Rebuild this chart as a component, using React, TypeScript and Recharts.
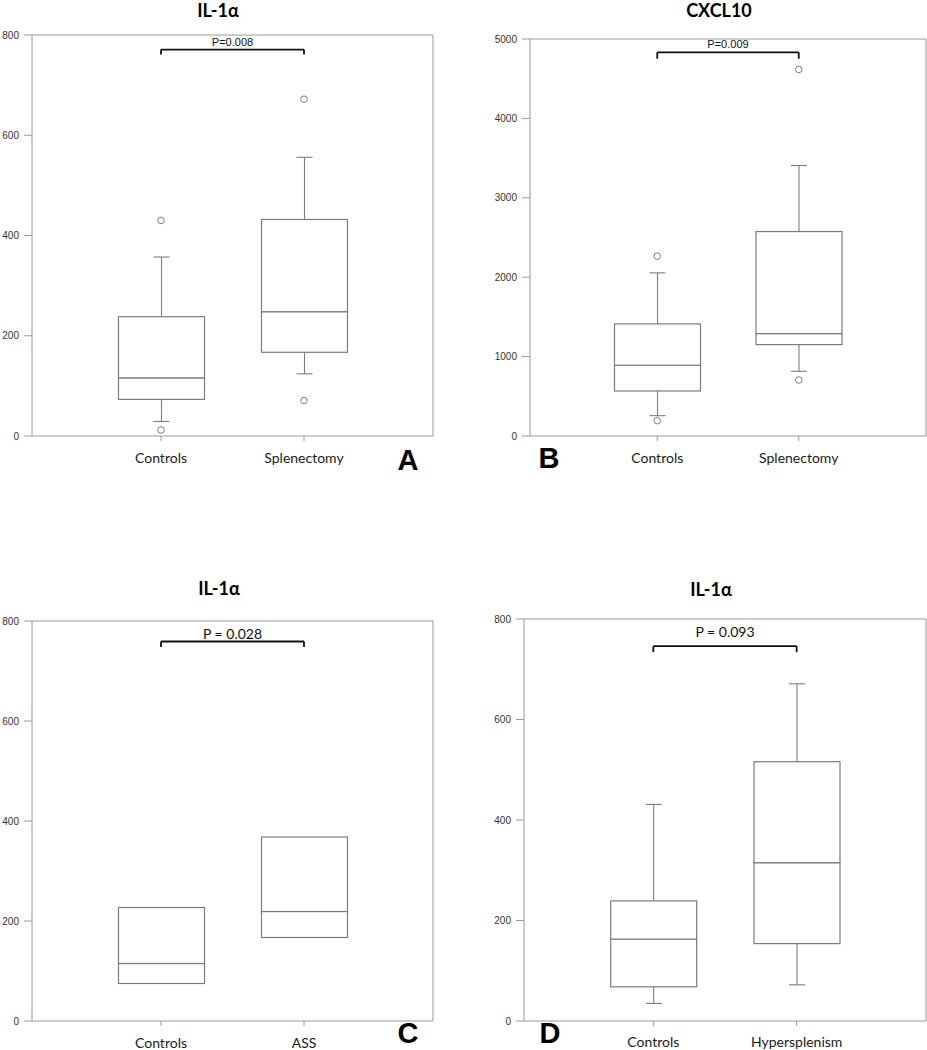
import React from 'react';
import {
  ComposedChart,
  Bar,
  Scatter,
  XAxis,
  YAxis,
  ReferenceLine,
} from 'recharts';

// ---------- Panel A : IL-1α, Controls vs Splenectomy ----------
const groupsA = ['Controls', 'Splenectomy'];
const lowWhiskerA = [29, 124];
const q1A = [73, 167];
const medianA = [116, 248];
const q3A = [238, 432];
const highWhiskerA = [357, 556];
const outHighA = [430, 672];
const outLowA = [12, 71];
const ticksA = [0, 200, 400, 600, 800];

// ---------- Panel B : CXCL10, Controls vs Splenectomy ----------
const groupsB = ['Controls', 'Splenectomy'];
const lowWhiskerB = [256, 815];
const q1B = [567, 1151];
const medianB = [891, 1290];
const q3B = [1412, 2575];
const highWhiskerB = [2054, 3407];
const outHighB = [2265, 4617];
const outLowB = [193, 706];
const ticksB = [0, 1000, 2000, 3000, 4000, 5000];

// ---------- Panel C : IL-1α, Controls vs ASS ----------
const groupsC = ['Controls', 'ASS'];
const q1C = [75, 167];
const medianC = [115, 219];
const q3C = [227, 368];
const ticksC = [0, 200, 400, 600, 800];

// ---------- Panel D : IL-1α, Controls vs Hypersplenism ----------
const groupsD = ['Controls', 'Hypersplenism'];
const lowWhiskerD = [35, 72];
const q1D = [68, 154];
const medianD = [163, 315];
const q3D = [239, 516];
const highWhiskerD = [431, 671];
const ticksD = [0, 200, 400, 600, 800];

// p-value brackets: label, bar level, end level
const bracketA = { label: 'P=0.008', level: 771, end: 761 };
const bracketB = { label: 'P=0.009', level: 4831, end: 4752 };
const bracketC = { label: 'P = 0.028', level: 759, end: 748 };
const bracketD = { label: 'P = 0.093', level: 746, end: 734 };

const BOX = '#7c7c7c';
const FRAME = '#9a9a9a';

const LowWhiskerShape = (p: any) => {
  if (p.height == null || isNaN(p.height)) return null;
  const cx = p.x + p.width / 2;
  const yb = p.y + p.height;
  return (
    <g>
      <line x1={cx} x2={cx} y1={p.y} y2={yb} stroke={BOX} strokeWidth={1.1} />
      <line x1={cx - 8} x2={cx + 8} y1={yb} y2={yb} stroke={BOX} strokeWidth={1.1} />
    </g>
  );
};

const HighWhiskerShape = (p: any) => {
  if (p.height == null || isNaN(p.height)) return null;
  const cx = p.x + p.width / 2;
  return (
    <g>
      <line x1={cx} x2={cx} y1={p.y} y2={p.y + p.height} stroke={BOX} strokeWidth={1.1} />
      <line x1={cx - 8} x2={cx + 8} y1={p.y} y2={p.y} stroke={BOX} strokeWidth={1.1} />
    </g>
  );
};

const BoxShape = (p: any) => {
  if (p.height == null || isNaN(p.height)) return null;
  return (
    <rect x={p.x} y={p.y} width={p.width} height={p.height} fill="#fff" stroke={BOX} strokeWidth={1.2} />
  );
};

const OutlierShape = (p: any) => (
  <circle cx={p.cx} cy={p.cy} r={3.3} fill="#fff" stroke={BOX} strokeWidth={1} />
);

type PanelProps = {
  left: number;
  top: number;
  width: number;
  height: number;
  margin: { top: number; right: number; bottom: number; left: number };
  yWidth: number;
  xHeight: number;
  xPad: number;
  xTickMargin: number;
  groups: string[];
  low?: number[];
  q1: number[];
  median: number[];
  q3: number[];
  high?: number[];
  outHigh?: number[];
  outLow?: number[];
  ticks: number[];
  bracket: { label: string; level: number; end: number };
  pFont: { family: string; size: number; offset: number };
};

const BoxPanel = (props: PanelProps) => {
  const { groups, low, q1, median, q3, high, outHigh, outLow, ticks, bracket } = props;
  const hasWhiskers = !!low && !!high;
  const data = groups.map((g, i) => ({
    name: g,
    base: hasWhiskers ? low![i] : q1[i],
    lowWhisker: hasWhiskers ? q1[i] - low![i] : undefined,
    lowBox: median[i] - q1[i],
    highBox: q3[i] - median[i],
    highWhisker: hasWhiskers ? high![i] - q3[i] : undefined,
    outHigh: outHigh ? outHigh[i] : undefined,
    outLow: outLow ? outLow[i] : undefined,
  }));
  const yMax = ticks[ticks.length - 1];
  const first = groups[0];
  const last = groups[groups.length - 1];
  return (
    <div style={{ position: 'absolute', left: props.left, top: props.top }}>
      <ComposedChart width={props.width} height={props.height} data={data} margin={props.margin} barSize={86}>
        <XAxis
          dataKey="name"
          type="category"
          interval={0}
          height={props.xHeight}
          padding={{ left: props.xPad, right: props.xPad }}
          axisLine={{ stroke: FRAME }}
          tickLine={{ stroke: FRAME }}
          tickSize={5}
          tickMargin={props.xTickMargin}
          tick={{ fontFamily: 'Lato, "Noto Sans", sans-serif', fontSize: 14, fill: '#1a1a1a' }}
        />
        <XAxis
          xAxisId="frameTop"
          dataKey="name"
          type="category"
          orientation="top"
          height={1}
          tick={false}
          tickLine={false}
          axisLine={{ stroke: FRAME }}
        />
        <YAxis
          type="number"
          domain={[0, yMax]}
          ticks={ticks}
          interval={0}
          width={props.yWidth}
          axisLine={{ stroke: FRAME }}
          tickLine={{ stroke: FRAME }}
          tickSize={8}
          tickMargin={5}
          tick={{ fontFamily: '"Liberation Sans", Arial, sans-serif', fontSize: 10, fill: '#333' }}
        />
        <YAxis
          yAxisId="frameRight"
          type="number"
          orientation="right"
          domain={[0, yMax]}
          width={1}
          tick={false}
          tickLine={false}
          axisLine={{ stroke: FRAME }}
        />
        <Bar dataKey="base" stackId="box" fill="none" isAnimationActive={false} />
        {hasWhiskers && (
          <Bar dataKey="lowWhisker" stackId="box" shape={LowWhiskerShape} isAnimationActive={false} />
        )}
        <Bar dataKey="lowBox" stackId="box" shape={BoxShape} isAnimationActive={false} />
        <Bar dataKey="highBox" stackId="box" shape={BoxShape} isAnimationActive={false} />
        {hasWhiskers && (
          <Bar dataKey="highWhisker" stackId="box" shape={HighWhiskerShape} isAnimationActive={false} />
        )}
        {outHigh && <Scatter dataKey="outHigh" shape={OutlierShape} isAnimationActive={false} />}
        {outLow && <Scatter dataKey="outLow" shape={OutlierShape} isAnimationActive={false} />}
        <ReferenceLine
          segment={[
            { x: first, y: bracket.level },
            { x: last, y: bracket.level },
          ]}
          stroke="#111"
          strokeWidth={1.8}
          label={{
            value: bracket.label,
            position: 'top',
            offset: props.pFont.offset,
            fill: '#111',
            fontSize: props.pFont.size,
            fontFamily: props.pFont.family,
          }}
        />
        <ReferenceLine
          segment={[
            { x: first, y: bracket.level },
            { x: first, y: bracket.end },
          ]}
          stroke="#111"
          strokeWidth={1.8}
        />
        <ReferenceLine
          segment={[
            { x: last, y: bracket.level },
            { x: last, y: bracket.end },
          ]}
          stroke="#111"
          strokeWidth={1.8}
        />
      </ComposedChart>
    </div>
  );
};

const titleFont = 'Lato, "Noto Sans", sans-serif';
const letterFont = '"Liberation Sans", Arial, sans-serif';
const smallP = { family: '"Liberation Sans", Arial, sans-serif', size: 11, offset: 4 };

export default function App() {
  return (
    <div
      style={{
        position: 'absolute',
        left: 0,
        top: 0,
        width: 927,
        height: 1050,
        background: '#fff',
        overflow: 'hidden',
      }}
    >
      <BoxPanel
        left={0}
        top={0}
        width={460}
        height={480}
        margin={{ top: 34, right: 26, bottom: 14, left: 0 }}
        yWidth={32}
        xHeight={30}
        xPad={57.5}
        xTickMargin={12}
        groups={groupsA}
        low={lowWhiskerA}
        q1={q1A}
        median={medianA}
        q3={q3A}
        high={highWhiskerA}
        outHigh={outHighA}
        outLow={outLowA}
        ticks={ticksA}
        bracket={bracketA}
        pFont={smallP}
      />
      <BoxPanel
        left={460}
        top={0}
        width={467}
        height={480}
        margin={{ top: 38, right: 0, bottom: 14, left: 0 }}
        yWidth={70}
        xHeight={30}
        xPad={56.5}
        xTickMargin={12}
        groups={groupsB}
        low={lowWhiskerB}
        q1={q1B}
        median={medianB}
        q3={q3B}
        high={highWhiskerB}
        outHigh={outHighB}
        outLow={outLowB}
        ticks={ticksB}
        bracket={bracketB}
        pFont={smallP}
      />
      <BoxPanel
        left={0}
        top={580}
        width={460}
        height={470}
        margin={{ top: 40, right: 26, bottom: 0, left: 0 }}
        yWidth={32}
        xHeight={29}
        xPad={57.5}
        xTickMargin={12}
        groups={groupsC}
        q1={q1C}
        median={medianC}
        q3={q3C}
        ticks={ticksC}
        bracket={bracketC}
        pFont={{ family: 'Lato, sans-serif', size: 14, offset: 3 }}
      />
      <BoxPanel
        left={460}
        top={580}
        width={467}
        height={470}
        margin={{ top: 38, right: 0, bottom: 0, left: 0 }}
        yWidth={64}
        xHeight={29}
        xPad={57.7}
        xTickMargin={11}
        groups={groupsD}
        low={lowWhiskerD}
        q1={q1D}
        median={medianD}
        q3={q3D}
        high={highWhiskerD}
        ticks={ticksD}
        bracket={bracketD}
        pFont={{ family: 'Lato, sans-serif', size: 14, offset: 9 }}
      />
      <svg
        width={927}
        height={1050}
        style={{ position: 'absolute', left: 0, top: 0, pointerEvents: 'none' }}
      >
        <g fontFamily={titleFont} fontWeight="bold" fontSize={18} fill="#000" textAnchor="middle">
          <text x={218} y={17}>IL-1α</text>
          <text x={719} y={17}>CXCL10</text>
          <text x={219} y={595}>IL-1α</text>
          <text x={711} y={596}>IL-1α</text>
        </g>
        <g fontFamily={letterFont} fontWeight="bold" fontSize={29} fill="#000" textAnchor="middle">
          <text x={408} y={470}>A</text>
          <text x={549} y={468}>B</text>
          <text x={408} y={1043}>C</text>
          <text x={550} y={1043}>D</text>
        </g>
      </svg>
    </div>
  );
}
